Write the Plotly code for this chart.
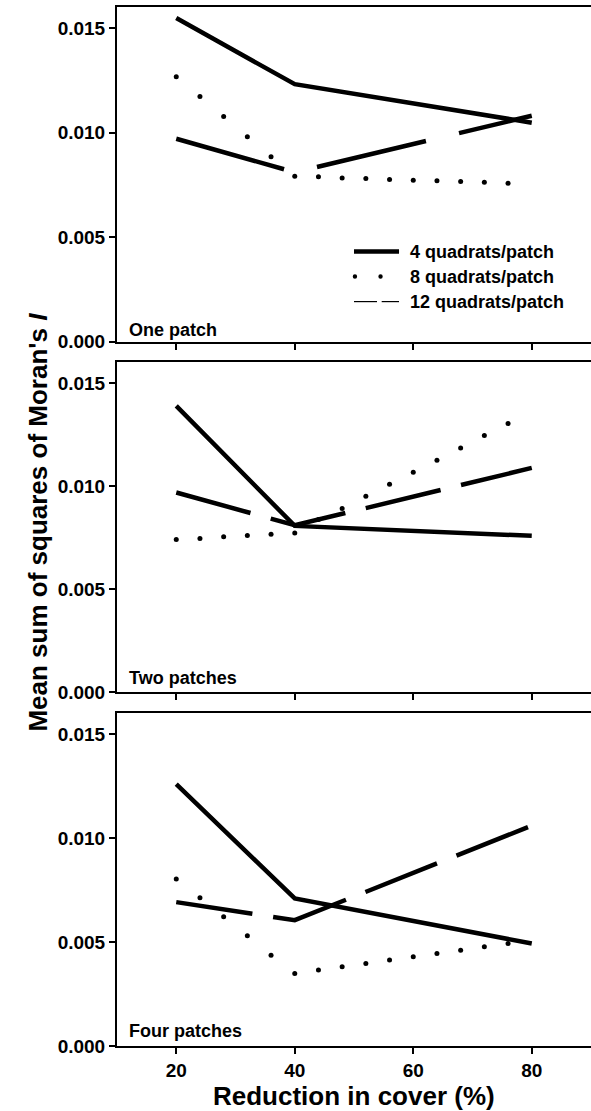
import plotly.graph_objects as go

# ---------------- data ----------------
x_main = [20, 40, 80]
x_dots = [20, 24, 28, 32, 36, 40, 44, 48, 52, 56, 60, 64, 68, 72, 76]

panel_names = ["One patch", "Two patches", "Four patches"]
series_names = ["4 quadrats/patch", "8 quadrats/patch", "12 quadrats/patch"]

one_q4 = [0.01547, 0.01231, 0.01047]
one_q12 = [0.0097, 0.0081, 0.0108]
one_q8 = [0.01267, 0.01172, 0.01076, 0.00980, 0.00884, 0.00791, 0.00788, 0.00783,
          0.00780, 0.00775, 0.00772, 0.00769, 0.00766, 0.00762, 0.00757]

two_q4 = [0.01389, 0.00807, 0.00759]
two_q12 = [0.00969, 0.0081, 0.01088]
two_q8 = [0.00741, 0.00746, 0.00754, 0.00761, 0.00767, 0.00773, 0.00838, 0.00891,
          0.00951, 0.01009, 0.01067, 0.01125, 0.01185, 0.01245, 0.01303]

four_q4 = [0.01259, 0.00710, 0.00493]
four_q12 = [0.00692, 0.00605, 0.01060]
four_q8 = [0.00803, 0.00713, 0.00621, 0.00530, 0.00437, 0.00349, 0.00365, 0.00381,
           0.00397, 0.00413, 0.00429, 0.00445, 0.00461, 0.00477, 0.00493]

y_ticks = [0, 0.005, 0.010, 0.015]
x_ticks = [20, 40, 60, 80]
y_range = [0, 0.016]
x_range = [10, 90]

panels = [
    (one_q4, one_q8, one_q12, "112px,34px"),
    (two_q4, two_q8, two_q12, "77px,21px"),
    (four_q4, four_q8, four_q12, "77px,21px"),
]

FONT = "Liberation Sans, Arial, Helvetica, sans-serif"
domains = [[0.6779, 1.0], [0.3404, 0.6580], [0.0, 0.3202]]

fig = go.Figure()
for i, (q4, q8, q12, dash12) in enumerate(panels):
    n = "" if i == 0 else str(i + 1)
    xa, ya = "x" + n, "y" + n
    fig.add_trace(go.Scatter(x=x_dots, y=q8, mode="markers", xaxis=xa, yaxis=ya,
                             marker=dict(size=5, color="black"), name=series_names[1],
                             showlegend=False))
    fig.add_trace(go.Scatter(x=x_main, y=q4, mode="lines", xaxis=xa, yaxis=ya,
                             line=dict(color="black", width=4.5), name=series_names[0],
                             showlegend=False))
    fig.add_trace(go.Scatter(x=x_main, y=q12, mode="lines", xaxis=xa, yaxis=ya,
                             line=dict(color="black", width=4.5, dash=dash12),
                             name=series_names[2], showlegend=False))

    axis_common = dict(showline=True, linewidth=2, linecolor="black", ticks="outside",
                       ticklen=6, tickwidth=2, tickcolor="black", showgrid=False,
                       zeroline=False)
    fig.layout["xaxis" + n] = dict(
        **axis_common, range=x_range, tickvals=x_ticks, mirror=True,
        anchor=ya, domain=[0, 1], showticklabels=(i == 2),
        tickfont=dict(family=FONT, size=19, color="black", weight="bold"))
    fig.layout["yaxis" + n] = dict(
        **axis_common, range=y_range, tickvals=y_ticks, tickformat=".3f",
        anchor=xa, domain=domains[i],
        tickfont=dict(family=FONT, size=19, color="black", weight="bold"))

    fig.add_annotation(text=panel_names[i], xref=xa + " domain", yref=ya + " domain",
                       x=0.021, y=[0.034, 0.0433, 0.0442][i], xanchor="left", yanchor="middle",
                       showarrow=False,
                       font=dict(family=FONT, size=18, color="black", weight="bold"))

# ---------------- legend (panel 1) ----------------
rows_y = [0.2693, 0.1945, 0.1197]
fig.add_shape(type="line", xref="x domain", yref="y domain", x0=0.5, x1=0.595,
              y0=rows_y[0], y1=rows_y[0], line=dict(color="black", width=4.5))
for cx in [0.502, 0.556]:
    fig.add_shape(type="circle", xref="x domain", yref="y domain",
                  xsizemode="pixel", ysizemode="pixel", xanchor=cx, yanchor=rows_y[1],
                  x0=-2.2, x1=2.2, y0=-2.2, y1=2.2, fillcolor="black",
                  line=dict(width=0))
for (a, b) in [(0.5, 0.5485), (0.5584, 0.595)]:
    fig.add_shape(type="line", xref="x domain", yref="y domain", x0=a, x1=b,
                  y0=rows_y[2], y1=rows_y[2], line=dict(color="black", width=1.2))
for name, yy in zip(series_names, rows_y):
    fig.add_annotation(text=name, xref="x domain", yref="y domain", x=0.613, y=yy,
                       xanchor="left", yanchor="middle", showarrow=False,
                       font=dict(family=FONT, size=18, color="black", weight="bold"))

# ---------------- axis titles ----------------
fig.add_annotation(text="Reduction in cover (%)", xref="paper", yref="paper",
                   x=0.5, y=-0.0481, xanchor="center", yanchor="middle", showarrow=False,
                   font=dict(family=FONT, size=26, color="black", weight="bold"))
fig.add_annotation(text="Mean sum of squares of Moran's <i>I</i>", xref="paper", yref="paper",
                   x=-0.1662, y=0.504, xanchor="center", yanchor="middle", textangle=-90,
                   showarrow=False,
                   font=dict(family=FONT, size=26, color="black", weight="bold"))

fig.update_layout(width=591, height=1111, margin=dict(l=117, r=0, t=7, b=65),
                  plot_bgcolor="white", paper_bgcolor="white", showlegend=False)

fig.write_html("out.html")
